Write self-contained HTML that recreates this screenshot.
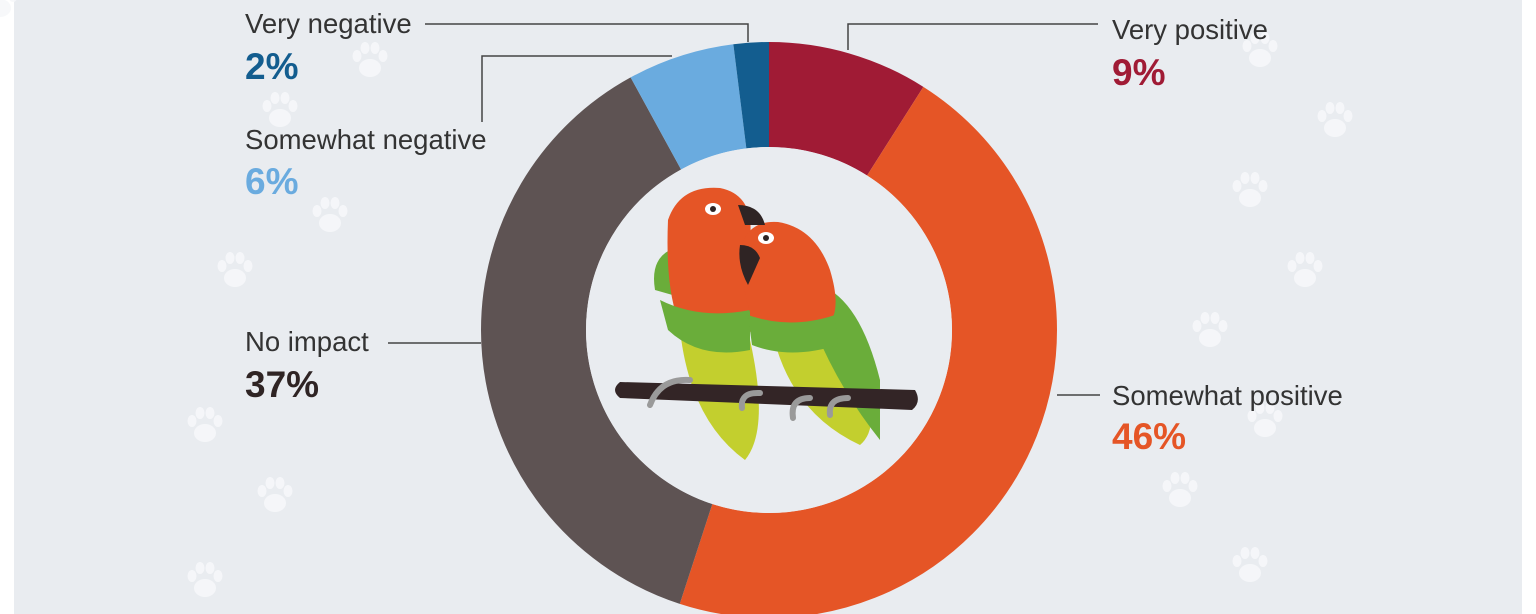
<!DOCTYPE html>
<html><head><meta charset="utf-8"><style>
html,body{margin:0;padding:0;background:#fff;}
svg{display:block;}
.l{font-family:"Liberation Sans",sans-serif;font-size:27.5px;fill:#333;}
.p{font-family:"Liberation Sans",sans-serif;font-size:37px;font-weight:bold;}
</style></head><body>
<svg width="1536" height="614" viewBox="0 0 1536 614">
<rect x="14" y="0" width="1508" height="614" fill="#e9ecf0"/>
<g fill="#f7f8fa" opacity="0.9">
<g id="paw"><ellipse cx="0" cy="8" rx="11" ry="9"/><ellipse cx="-13" cy="-4" rx="4.5" ry="6"/><ellipse cx="-5" cy="-12" rx="4.5" ry="6"/><ellipse cx="5" cy="-12" rx="4.5" ry="6"/><ellipse cx="13" cy="-4" rx="4.5" ry="6"/></g>
<use href="#paw" transform="translate(370,60)"/>
<use href="#paw" transform="translate(280,110)"/>
<use href="#paw" transform="translate(330,215)"/>
<use href="#paw" transform="translate(235,270)"/>
<use href="#paw" transform="translate(205,425)"/>
<use href="#paw" transform="translate(275,495)"/>
<use href="#paw" transform="translate(205,580)"/>
<use href="#paw" transform="translate(1260,50)"/>
<use href="#paw" transform="translate(1335,120)"/>
<use href="#paw" transform="translate(1250,190)"/>
<use href="#paw" transform="translate(1305,270)"/>
<use href="#paw" transform="translate(1210,330)"/>
<use href="#paw" transform="translate(1265,420)"/>
<use href="#paw" transform="translate(1180,490)"/>
<use href="#paw" transform="translate(1250,565)"/>
</g>
<g transform="translate(769,330) rotate(-90)" fill="none" stroke-width="105">
<circle r="235.5" stroke="#a01b35" stroke-dasharray="133.2 3000" stroke-dashoffset="0"/>
<circle r="235.5" stroke="#e55526" stroke-dasharray="680.7 3000" stroke-dashoffset="-133.2"/>
<circle r="235.5" stroke="#5e5353" stroke-dasharray="547.5 3000" stroke-dashoffset="-813.9"/>
<circle r="235.5" stroke="#6aabdf" stroke-dasharray="88.8 3000" stroke-dashoffset="-1361.4"/>
<circle r="235.5" stroke="#135d8f" stroke-dasharray="29.6 3000" stroke-dashoffset="-1450.2"/>
</g>
<circle cx="769" cy="330" r="183" fill="#e9ecf0"/>
<g>
<path d="M655 290 Q650 260 670 250 L690 300 Z" fill="#6aad3a"/>
<path d="M680 330 Q690 420 745 460 Q770 430 750 340 Z" fill="#c3cf2e"/>
<path d="M668 220 Q680 185 720 188 Q755 195 750 240 L755 330 Q720 345 680 325 Q665 290 668 220 Z" fill="#e55526"/>
<path d="M660 300 Q700 320 750 310 L750 350 Q700 360 668 330 Z" fill="#6aad3a"/>
<path d="M770 320 Q785 410 860 445 Q890 420 840 330 Z" fill="#c3cf2e"/>
<path d="M820 285 Q860 300 880 380 L880 440 Q840 390 815 330 Z" fill="#6aad3a"/>
<path d="M742 245 Q750 220 778 222 Q815 228 830 270 Q845 320 820 330 L760 335 Q740 300 742 245 Z" fill="#e55526"/>
<path d="M748 315 Q790 330 835 315 L838 345 Q790 360 752 345 Z" fill="#6aad3a"/>
<path d="M738 205 Q760 205 765 225 L745 225 Z" fill="#2f2424"/>
<path d="M740 245 Q755 245 760 258 L748 285 Q737 265 740 245 Z" fill="#2f2424"/>
<ellipse cx="713" cy="209" rx="8" ry="6" fill="#fff"/><circle cx="713" cy="209" r="3" fill="#2f2424"/>
<ellipse cx="766" cy="238" rx="8" ry="6" fill="#fff"/><circle cx="766" cy="238" r="3" fill="#2f2424"/>
<path d="M620 382 L915 390 Q922 402 912 410 L620 398 Q610 390 620 382 Z" fill="#332526"/>
<g fill="none" stroke="#9a9a9a" stroke-width="6" stroke-linecap="round">
<path d="M650 405 Q660 378 690 380"/><path d="M742 408 Q740 392 760 393"/><path d="M793 418 Q790 398 810 398"/><path d="M830 415 Q828 398 848 398"/>
</g>
</g>
<g stroke="#444" stroke-width="1.5" fill="none">
<polyline points="425,24 748,24 748,42"/>
<polyline points="482,122 482,56 672,56"/>
<polyline points="848,50 848,24 1098,24"/>
<line x1="388" y1="343" x2="481" y2="343"/>
<line x1="1057" y1="395" x2="1100" y2="395"/>
</g>
<text class="l" x="245" y="33">Very negative</text>
<text class="p" x="245" y="79" fill="#135d8f">2%</text>
<text class="l" x="245" y="149">Somewhat negative</text>
<text class="p" x="245" y="194" fill="#6aabdf">6%</text>
<text class="l" x="245" y="351">No impact</text>
<text class="p" x="245" y="397" fill="#2f2424">37%</text>
<text class="l" x="1112" y="39">Very positive</text>
<text class="p" x="1112" y="85" fill="#a01b35">9%</text>
<text class="l" x="1112" y="405">Somewhat positive</text>
<text class="p" x="1112" y="449" fill="#e55526">46%</text>
</svg>
</body></html>
